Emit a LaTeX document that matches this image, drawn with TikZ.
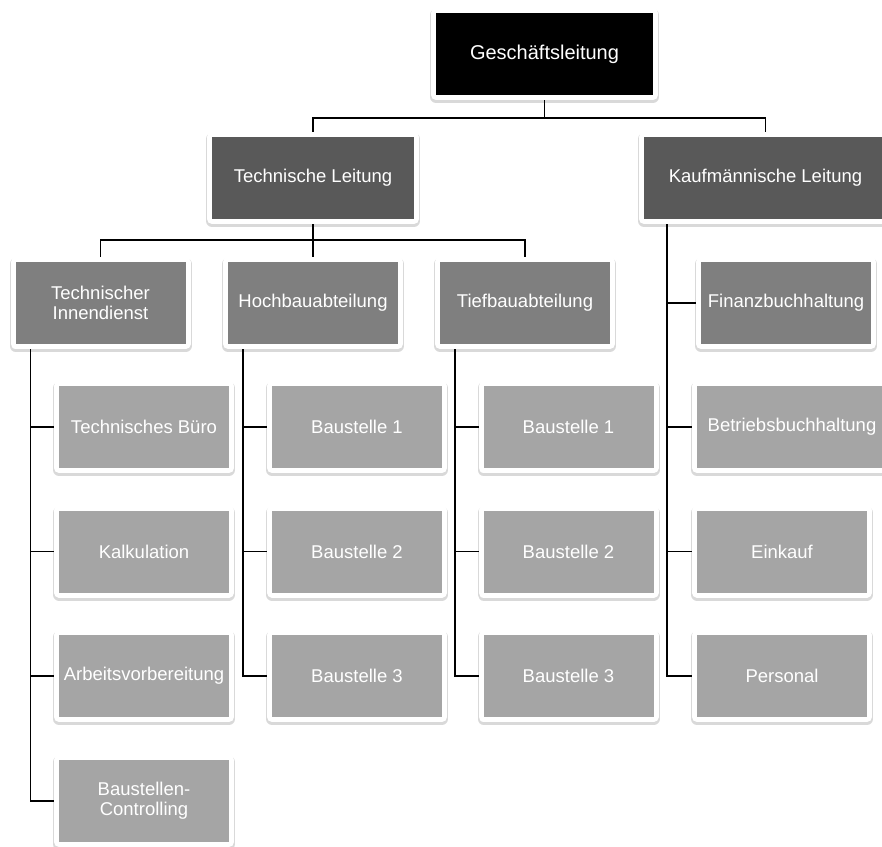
\documentclass[tikz,border=0pt]{standalone}
\usepackage{fontspec}
\setmainfont{Liberation Sans}
\usetikzlibrary{backgrounds}
\definecolor{tone0}{HTML}{000000}
\definecolor{tone1}{HTML}{595959}
\definecolor{tone2}{HTML}{7F7F7F}
\definecolor{tone3}{HTML}{A5A5A5}
\begin{document}
\begin{tikzpicture}[x=1pt,y=-1pt,
  orgbox/.style={rectangle, inner sep=0pt, text=white, align=center,
    minimum width=170pt, minimum height=82pt,
    font=\fontsize{18.5}{20}\selectfont,
    preaction={draw=black, draw opacity=0.15, line width=12pt, line join=round,
               transform canvas={yshift=-2pt}},
    preaction={draw=white, line width=10pt, line join=round}},
  topbox/.style={orgbox, fill=tone0, font=\fontsize{20}{22}\selectfont},
  headbox/.style={orgbox, fill=tone1},
  deptbox/.style={orgbox, fill=tone2},
  unitbox/.style={orgbox, fill=tone3},
  link/.style={draw=black, line width=1.6pt}]
\useasboundingbox (0,0) rectangle (882,846);
\clip (0,0) rectangle (882,846);

% management
\node[topbox, minimum width=217pt] (gl) at (544.5,54) {Geschäftsleitung};
\node[headbox, minimum width=202pt] (tl) at (313,178) {Technische Leitung};
\node[headbox, minimum width=243pt] (kl) at (765.5,178) {Kaufmännische Leitung};

% departments
\node[deptbox] (ti) at (100.5,303) {Technischer\\Innendienst};
\node[deptbox] (hb) at (313,303) {Hochbauabteilung};
\node[deptbox] (tb) at (525,303) {Tiefbauabteilung};
\node[deptbox] (fb) at (786,303) {Finanzbuchhaltung};

% technical office
\node[unitbox] (tbuero) at (144,427) {Technisches Büro};
\node[unitbox] (kalk)   at (144,551.5) {Kalkulation};
\node[unitbox] (avor)   at (144,676) {Arbeitsvorbereitung};
\node[unitbox] (bcon)   at (144,801) {Baustellen-\\Controlling};

% building construction sites
\node[unitbox] (hb1) at (357,427) {Baustelle 1};
\node[unitbox] (hb2) at (357,551.5) {Baustelle 2};
\node[unitbox] (hb3) at (357,676) {Baustelle 3};

% civil engineering sites
\node[unitbox] (tb1) at (568.5,427) {Baustelle 1};
\node[unitbox] (tb2) at (568.5,551.5) {Baustelle 2};
\node[unitbox] (tb3) at (568.5,676) {Baustelle 3};

% commercial units
\node[unitbox, minimum width=190pt] (bb) at (792,427) {Betriebsbuchhaltung};
\node[unitbox] (ek) at (782,551.5) {Einkauf};
\node[unitbox] (pe) at (782,676) {Personal};

\begin{pgfonlayer}{background}
  \fill[white] (0,0) rectangle (882,846);
  \draw[link] (gl.south) -- ++(0,23) -| (tl.north);
  \draw[link] (gl.south) -- ++(0,23) -| (kl.north);
  \draw[link] (tl.south) -- ++(0,21) -| (ti.north);
  \draw[link] (tl.south) -- ++(0,21) -| (hb.north);
  \draw[link] (tl.south) -- ++(0,21) -| (tb.north);
  \foreach \c in {tbuero,kalk,avor,bcon}
    \draw[link] ([xshift=15pt]ti.south west) |- (\c.west);
  \foreach \c in {hb1,hb2,hb3}
    \draw[link] ([xshift=15pt]hb.south west) |- (\c.west);
  \foreach \c in {tb1,tb2,tb3}
    \draw[link] ([xshift=15pt]tb.south west) |- (\c.west);
  \foreach \c in {fb,bb,ek,pe}
    \draw[link] ([xshift=23pt]kl.south west) |- (\c.west);
\end{pgfonlayer}
\end{tikzpicture}
\end{document}
